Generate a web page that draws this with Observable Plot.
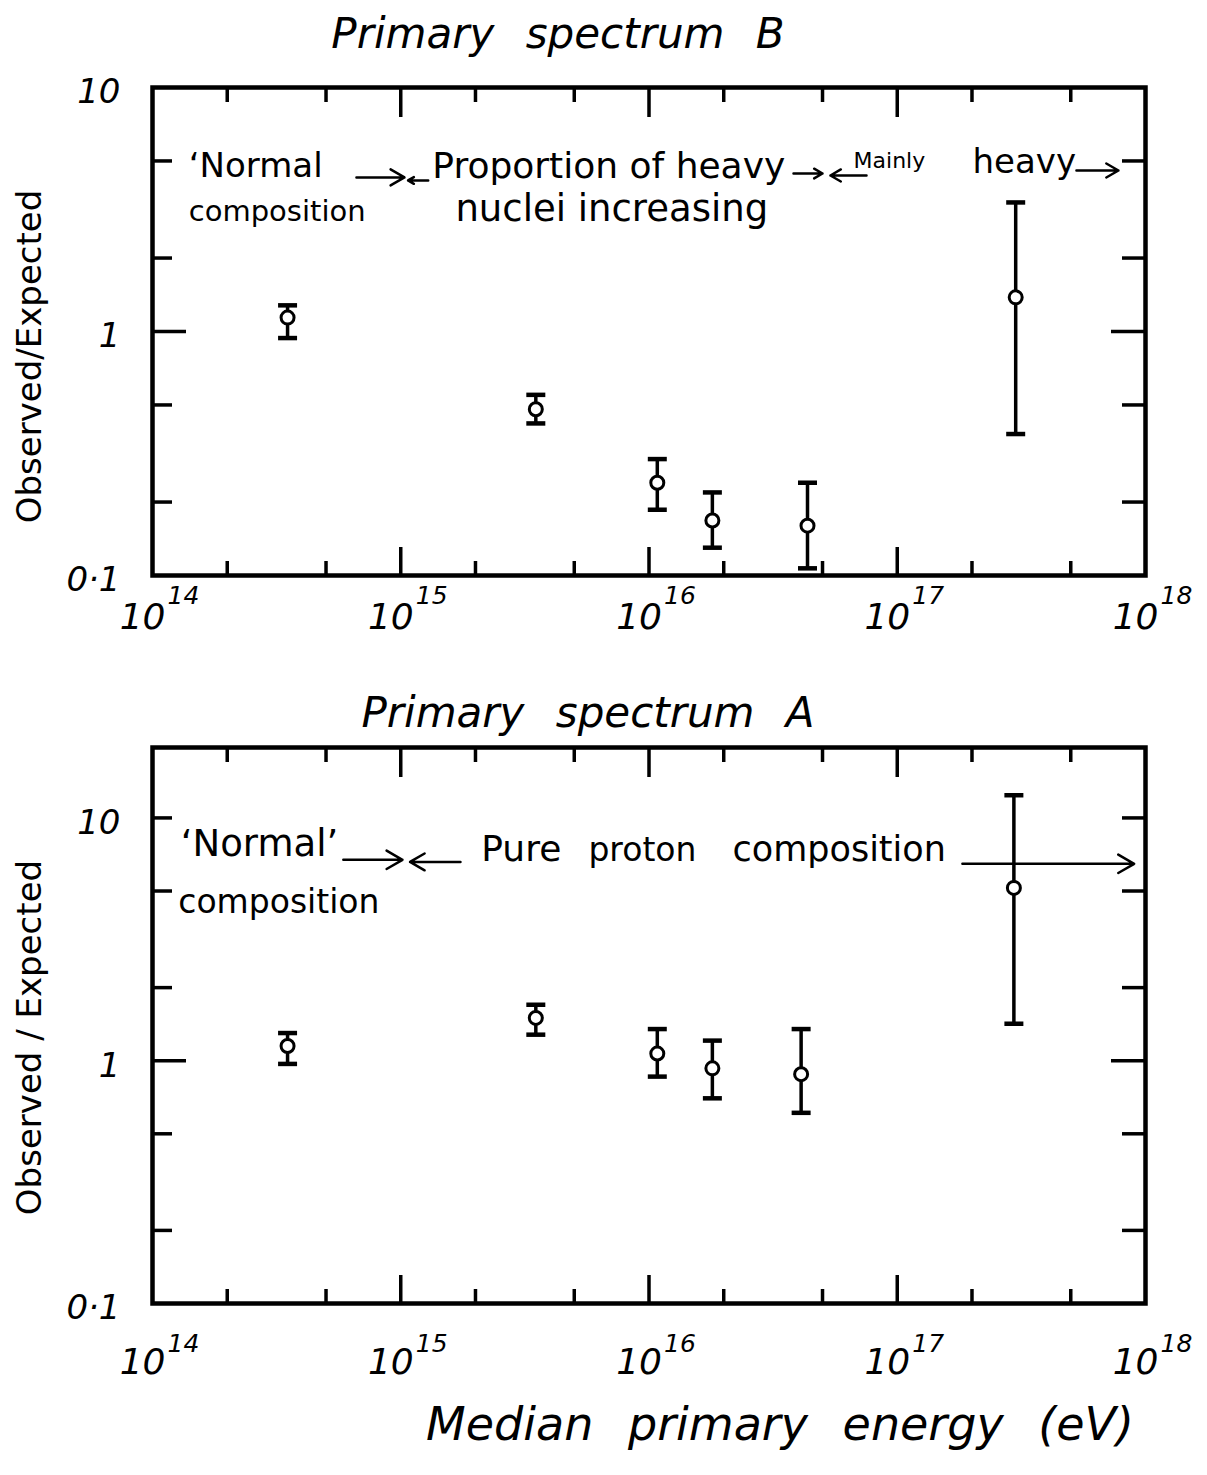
<!DOCTYPE html>
<html><head><meta charset="utf-8">
<script src="https://cdn.jsdelivr.net/npm/d3@7"></script>
<script src="https://cdn.jsdelivr.net/npm/@observablehq/plot@0.6"></script>
<style>
body{margin:0;background:#fff;}
#wrap{position:relative;width:1207px;height:1475px;overflow:hidden;background:#fff;font-family:"DejaVu Sans",sans-serif;color:#000;}
.panel{position:absolute;left:0;}
.hand{position:absolute;font-style:italic;white-space:nowrap;line-height:1;text-align:center;z-index:2;}
</style></head>
<body>
<div id="wrap">
  <div class="panel" id="panelB" style="top:60px"></div>
  <div class="panel" id="panelA" style="top:700px"></div>
  <div class="hand" style="left:158px;width:800px;top:13px;font-size:42px;word-spacing:18px;">Primary spectrum B</div>
  <div class="hand" style="left:188px;width:800px;top:692px;font-size:42px;word-spacing:18px;">Primary spectrum A</div>
  <div class="hand" style="left:380px;width:800px;top:1401px;font-size:46px;word-spacing:20px;">Median primary energy (eV)</div>
</div>
<script>
// ---------- data ----------
// Primary spectrum B
const energyB = [3.5e14, 3.5e15, 1.08e16, 1.8e16, 4.35e16, 3.0e17];
const ratioB  = [1.14, 0.48, 0.24, 0.168, 0.16, 1.38];
const lowB    = [0.94, 0.42, 0.186, 0.130, 0.107, 0.38];
const highB   = [1.28, 0.55, 0.30, 0.219, 0.24, 3.38];
// Primary spectrum A
const energyA = [3.5e14, 3.5e15, 1.08e16, 1.8e16, 4.1e16, 2.95e17];
const ratioA  = [1.15, 1.50, 1.07, 0.93, 0.88, 5.15];
const lowA    = [0.97, 1.28, 0.86, 0.70, 0.61, 1.42];
const highA   = [1.30, 1.70, 1.35, 1.21, 1.35, 12.4];

// ticks
const xDecades = [1e14, 1e15, 1e16, 1e17, 1e18];
const xMajor = [1e15, 1e16, 1e17];
const xMinor = [2e14, 5e14, 2e15, 5e15, 2e16, 5e16, 2e17, 5e17];
const yMajor = [1];
const yMinorB = [0.2, 0.5, 2, 5];
const yMinorA = [0.2, 0.5, 2, 5, 10];
const yTickValues = [10, 1, 0.1];
const yTickText = ["10", "1", "0·1"];

// annotations: [text, energy, ratio]
const notesB = [
  ["‘Normal", 1.40e14, 4.75],
  ["composition", 1.40e14, 3.10],
  ["Proportion of heavy", 1.34e15, 4.75],
  ["nuclei increasing", 1.66e15, 3.18],
  ["Mainly", 6.67e16, 5.0],
  ["heavy", 2.01e17, 4.93]
];
const notesA = [
  ["‘Normal’", 1.30e14, 7.78],
  ["composition", 1.27e14, 4.47],
  ["Pure", 2.11e15, 7.38],
  ["proton", 5.70e15, 7.38],
  ["composition", 2.17e16, 7.38]
];
const arrowsB = [
  {x1: 6.63e14, y1: 4.28, x2: 1.035e15, y2: 4.28},
  {x1: 1.29e15, y1: 4.16, x2: 1.07e15, y2: 4.16},
  {x1: 3.82e16, y1: 4.44, x2: 5.0e16, y2: 4.44},
  {x1: 7.52e16, y1: 4.36, x2: 5.38e16, y2: 4.36},
  {x1: 5.27e17, y1: 4.57, x2: 7.78e17, y2: 4.57}
];
const arrowsA = [
  {x1: 5.87e14, y1: 6.72, x2: 1.016e15, y2: 6.72},
  {x1: 1.74e15, y1: 6.59, x2: 1.09e15, y2: 6.59},
  {x1: 1.83e17, y1: 6.47, x2: 9.0e17, y2: 6.47}
];

// ---------- styles ----------
const noteSizesB = [34, 29, 36, 37, 22, 34];
const noteSizesA = [37, 33, 36, 33, 35];

const capSymbol = {
  draw(ctx, size) {
    const w = Math.sqrt(size / Math.PI);
    ctx.moveTo(-w, 0);
    ctx.lineTo(w, 0);
  }
};

function panel({energy, ratio, low, high, yDomain, marginTop, frameH, marginBottom,
                yMinor, notes, noteSizes, arrows, yLabel, yLabelDy, xLabDy, expDy}) {
  const width = 1207, marginLeft = 152, marginRight = 62;
  const Wf = width - marginLeft - marginRight;
  const H = frameH;
  const rows = energy.map((e, i) => ({e, r: ratio[i], lo: low[i], hi: high[i]}));
  const sw = 3.5;
  const marks = [
    Plot.tickX(xMinor, {x: d => d, insetTop: H - 14, strokeWidth: sw}),
    Plot.tickX(xMinor, {x: d => d, insetBottom: H - 15, strokeWidth: sw}),
    Plot.tickX(xMajor, {x: d => d, insetTop: H - 28, strokeWidth: sw}),
    Plot.tickX(xMajor, {x: d => d, insetBottom: H - 30, strokeWidth: sw}),
    Plot.tickY(yMinor, {y: d => d, insetRight: Wf - 20, strokeWidth: sw}),
    Plot.tickY(yMinor, {y: d => d, insetLeft: Wf - 23, strokeWidth: sw}),
    Plot.tickY(yMajor, {y: d => d, insetRight: Wf - 34, strokeWidth: sw}),
    Plot.tickY(yMajor, {y: d => d, insetLeft: Wf - 34, strokeWidth: sw}),
    Plot.frame({strokeWidth: 4.5}),
    Plot.ruleX(rows, {x: "e", y1: "lo", y2: "hi", strokeWidth: 3.5}),
    Plot.dot(rows, {x: "e", y: "hi", symbol: capSymbol, r: 9.5, stroke: "black", strokeWidth: 4.5}),
    Plot.dot(rows, {x: "e", y: "lo", symbol: capSymbol, r: 9.5, stroke: "black", strokeWidth: 4.5}),
    Plot.dot(rows, {x: "e", y: "r", r: 6.5, fill: "white", stroke: "black", strokeWidth: 3}),
    Plot.arrow(arrows, {x1: "x1", y1: "y1", x2: "x2", y2: "y2", strokeWidth: 2.5, headLength: 11}),
    ...notes.map((n, i) => Plot.text([n], {
      x: d => d[1], y: d => d[2], text: d => d[0], textAnchor: "start", lineAnchor: "middle",
      fontSize: noteSizes[i], fill: "black"
    })),
    // y tick labels
    Plot.text(yTickValues, {
      y: d => d, frameAnchor: "left", text: (d, i) => yTickText[i],
      textAnchor: "end", lineAnchor: "middle", dx: -32, dy: 5, fontSize: 34, fontStyle: "italic"
    }),
    // x tick labels: "10" + exponent
    Plot.text(xDecades, {
      x: d => d, frameAnchor: "bottom", text: () => "10",
      textAnchor: "end", lineAnchor: "middle", dx: 13, dy: xLabDy, fontSize: 36, fontStyle: "italic"
    }),
    Plot.text(xDecades, {
      x: d => d, frameAnchor: "bottom", text: d => String(Math.round(Math.log10(d))),
      textAnchor: "start", lineAnchor: "middle", dx: 15, dy: expDy, fontSize: 25, fontStyle: "italic"
    }),
    // y axis label
    Plot.text([yLabel], {
      text: d => d, frameAnchor: "left", textAnchor: "middle", lineAnchor: "middle",
      rotate: -90, dx: -122, dy: yLabelDy, fontSize: 34
    })
  ];
  return Plot.plot({
    width,
    height: marginTop + frameH + marginBottom,
    marginLeft, marginRight, marginTop, marginBottom,
    x: {type: "log", domain: [1e14, 1e18], axis: null},
    y: {type: "log", domain: yDomain, axis: null},
    style: {background: "transparent", fontFamily: "'DejaVu Sans', sans-serif", overflow: "visible", color: "black"},
    marks
  });
}

document.getElementById("panelB").append(panel({
  energy: energyB, ratio: ratioB, low: lowB, high: highB,
  yDomain: [0.1, 10], marginTop: 27, frameH: 488, marginBottom: 80,
  yMinor: yMinorB, notes: notesB, noteSizes: noteSizesB, arrows: arrowsB,
  yLabel: "Observed/Expected", yLabelDy: 25, xLabDy: 42, expDy: 20
}));
document.getElementById("panelA").append(panel({
  energy: energyA, ratio: ratioA, low: lowA, high: highA,
  yDomain: [0.1, 19.5], marginTop: 47, frameH: 556, marginBottom: 95,
  yMinor: yMinorA, notes: notesA, noteSizes: noteSizesA, arrows: arrowsA,
  yLabel: "Observed / Expected", yLabelDy: 12, xLabDy: 59, expDy: 40
}));
</script>
</body></html>
